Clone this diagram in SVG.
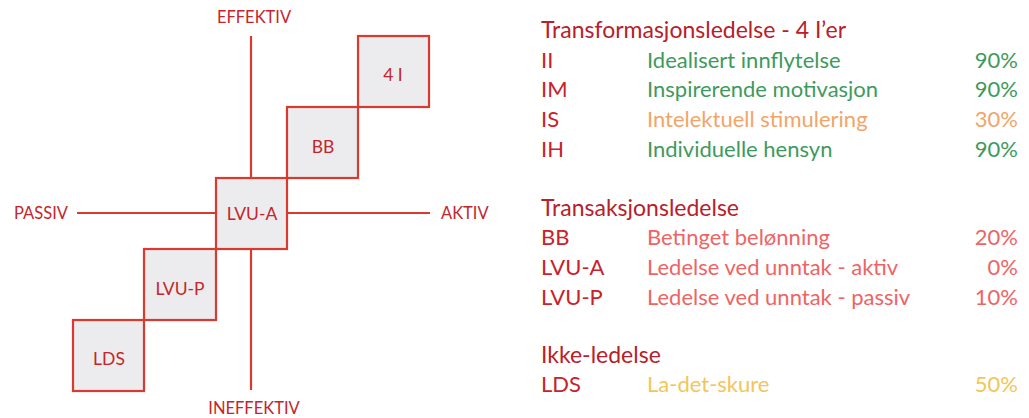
<svg xmlns="http://www.w3.org/2000/svg" width="1029" height="418" viewBox="0 0 1029 418">
  <style>
    text { font-family: "Lato", "Open Sans", "Liberation Sans", sans-serif; }
    .axis { fill: #c4262b; font-size: 16.5px; }
    .box { fill: #ececee; stroke: #d93a2f; stroke-width: 2.2; }
    .boxlbl { fill: #c4262b; font-size: 17.5px; text-anchor: middle; }
    .line { stroke: #d93a2f; stroke-width: 2.2; fill: none; }
    .head { fill: #b8202a; font-size: 23px; }
    .code { fill: #c8222a; font-size: 22px; }
    .green { fill: #3e9a5c; font-size: 22px; }
    .orange { fill: #f2a567; font-size: 22px; }
    .pink { fill: #ee6464; font-size: 22px; }
    .yellow { fill: #f2c55a; font-size: 22px; }
    .pct { text-anchor: end; }
  </style>

  <!-- axes -->
  <g id="connectors">
    <line class="line" x1="251" y1="36" x2="251" y2="178"/>
    <line class="line" x1="251" y1="249" x2="251" y2="390"/>
    <line class="line" x1="77" y1="213" x2="216" y2="213"/>
    <line class="line" x1="287" y1="213" x2="430" y2="213"/>
  </g>

  <g id="axis-labels">
    <text class="axis" x="254" y="23" text-anchor="middle">EFFEKTIV</text>
    <text class="axis" x="254" y="414" text-anchor="middle">INEFFEKTIV</text>
    <text class="axis" x="14" y="219">PASSIV</text>
    <text class="axis" x="441" y="219">AKTIV</text>
  </g>

  <!-- staircase of leadership styles -->
  <g id="node-4i">
    <rect class="box" x="358" y="36" width="71" height="71"/>
    <text class="boxlbl" x="393" y="81">4 I</text>
  </g>
  <g id="node-bb">
    <rect class="box" x="287" y="107" width="71" height="71"/>
    <text class="boxlbl" x="323" y="153">BB</text>
  </g>
  <g id="node-lvu-a">
    <rect class="box" x="216" y="178" width="71" height="71"/>
    <text class="boxlbl" x="252" y="220">LVU-A</text>
  </g>
  <g id="node-lvu-p">
    <rect class="box" x="144" y="249" width="72" height="71"/>
    <text class="boxlbl" x="180" y="295">LVU-P</text>
  </g>
  <g id="node-lds">
    <rect class="box" x="73" y="320" width="71" height="71"/>
    <text class="boxlbl" x="109" y="365">LDS</text>
  </g>

  <!-- legend -->
  <g id="legend">
    <text class="head" x="541" y="38">Transformasjonsledelse - 4 I’er</text>
    <text class="code" x="541" y="68">II</text>
    <text class="green" x="647" y="68">Idealisert innflytelse</text>
    <text class="green pct" x="1018" y="68">90%</text>
    <text class="code" x="541" y="97">IM</text>
    <text class="green" x="647" y="97">Inspirerende motivasjon</text>
    <text class="green pct" x="1018" y="97">90%</text>
    <text class="code" x="541" y="127">IS</text>
    <text class="orange" x="647" y="127">Intelektuell stimulering</text>
    <text class="orange pct" x="1018" y="127">30%</text>
    <text class="code" x="541" y="157">IH</text>
    <text class="green" x="647" y="157">Individuelle hensyn</text>
    <text class="green pct" x="1018" y="157">90%</text>

    <text class="head" x="541" y="216">Transaksjonsledelse</text>
    <text class="code" x="541" y="245">BB</text>
    <text class="pink" x="647" y="245">Betinget belønning</text>
    <text class="pink pct" x="1018" y="245">20%</text>
    <text class="code" x="541" y="275">LVU-A</text>
    <text class="pink" x="647" y="275">Ledelse ved unntak - aktiv</text>
    <text class="pink pct" x="1018" y="275">0%</text>
    <text class="code" x="541" y="305">LVU-P</text>
    <text class="pink" x="647" y="305">Ledelse ved unntak - passiv</text>
    <text class="pink pct" x="1018" y="305">10%</text>

    <text class="head" x="541" y="363">Ikke-ledelse</text>
    <text class="code" x="541" y="392">LDS</text>
    <text class="yellow" x="647" y="392">La-det-skure</text>
    <text class="yellow pct" x="1018" y="392">50%</text>
  </g>
</svg>
